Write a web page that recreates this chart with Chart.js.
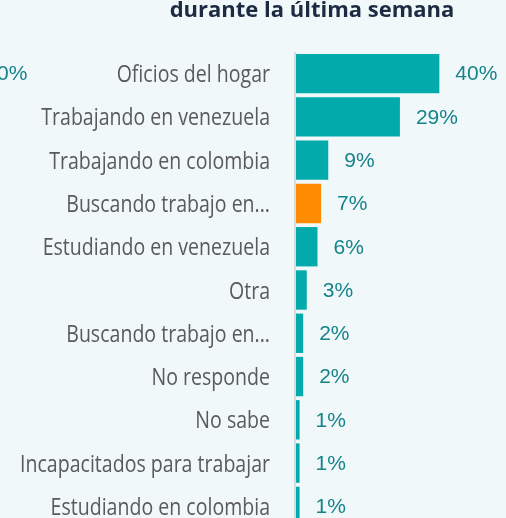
<!DOCTYPE html>
<html>
<head>
<meta charset="utf-8">
<script src="https://cdn.jsdelivr.net/npm/chart.js@4.4.1/dist/chart.umd.min.js"></script>
<style>
  html, body { margin:0; padding:0; background:#f0f8fa; overflow:hidden; }
  #wrap { position:relative; width:506px; height:518px; overflow:hidden; }
  canvas { display:block; width:506px; height:540px; }
</style>
</head>
<body>
<div id="wrap"><canvas id="grafico" width="506" height="540"></canvas></div>
<script>
const titulo = 'durante la última semana';
const categorias = [
  'Oficios del hogar',
  'Trabajando en venezuela',
  'Trabajando en colombia',
  'Buscando trabajo en...',
  'Estudiando en venezuela',
  'Otra',
  'Buscando trabajo en...',
  'No responde',
  'No sabe',
  'Incapacitados para trabajar',
  'Estudiando en colombia'
];
const valores = [40, 29, 9, 7, 6, 3, 2, 2, 1, 1, 1];
const destacado = 3; // la barra naranja
const textoCortado = '0%'; // resto de la etiqueta del panel vecino

const TEAL = '#02aaab';
const NARANJA = '#ff8c00';
const colores = valores.map((v, i) => i === destacado ? NARANJA : TEAL);

// linea del eje, nombres de categoria (letra estrecha), titulo y etiquetas de valor
const extras = {
  id: 'extras',
  beforeDatasetsDraw(chart) {
    const { ctx, chartArea } = chart;
    ctx.save();
    ctx.fillStyle = '#d9dcdd';
    ctx.fillRect(chartArea.left - 2, chartArea.top, 2, chartArea.bottom - chartArea.top);
    ctx.restore();
  },
  afterDatasetsDraw(chart) {
    const { ctx, scales } = chart;
    const meta = chart.getDatasetMeta(0);
    ctx.save();

    ctx.font = '400 23px "Open Sans", sans-serif';
    ctx.fillStyle = '#5a5a5a';
    ctx.textAlign = 'right';
    ctx.textBaseline = 'alphabetic';
    categorias.forEach((c, i) => {
      const y = scales.y.getPixelForTick(i);
      ctx.save();
      ctx.translate(270, y + 8.5);
      ctx.scale(0.85, 1);
      ctx.fillText(c, 0, 0);
      ctx.restore();
    });

    ctx.font = '21px "Liberation Sans", Arial, sans-serif';
    ctx.fillStyle = '#16838a';
    ctx.textBaseline = 'middle';
    ctx.textAlign = 'left';
    meta.data.forEach((bar, i) => {
      ctx.fillText(valores[i] + '%', bar.x + 16, bar.y + 1);
    });
    ctx.fillText(textoCortado, -3, meta.data[0].y + 1);

    ctx.font = 'bold 22px "Open Sans", sans-serif';
    ctx.fillStyle = '#1c2b42';
    ctx.textAlign = 'center';
    ctx.textBaseline = 'alphabetic';
    ctx.fillText(titulo, 312, 17);
    ctx.restore();
  }
};

new Chart(document.getElementById('grafico'), {
  type: 'bar',
  data: {
    labels: categorias,
    datasets: [{
      data: valores,
      backgroundColor: colores,
      borderWidth: 0,
      barPercentage: 0.91,
      categoryPercentage: 1
    }]
  },
  options: {
    indexAxis: 'y',
    responsive: false,
    maintainAspectRatio: false,
    animation: false,
    devicePixelRatio: 1,
    layout: { padding: { top: 52, bottom: 12, left: 0, right: 0 } },
    plugins: { legend: { display: false }, tooltip: { enabled: false }, title: { display: false } },
    scales: {
      x: { display: false, min: 0, max: 58.6 },
      y: {
        grid: { display: false, drawTicks: false },
        border: { display: false },
        ticks: { display: false },
        afterFit(scale) { scale.width = 296; }
      }
    }
  },
  plugins: [extras]
});
</script>
</body>
</html>
